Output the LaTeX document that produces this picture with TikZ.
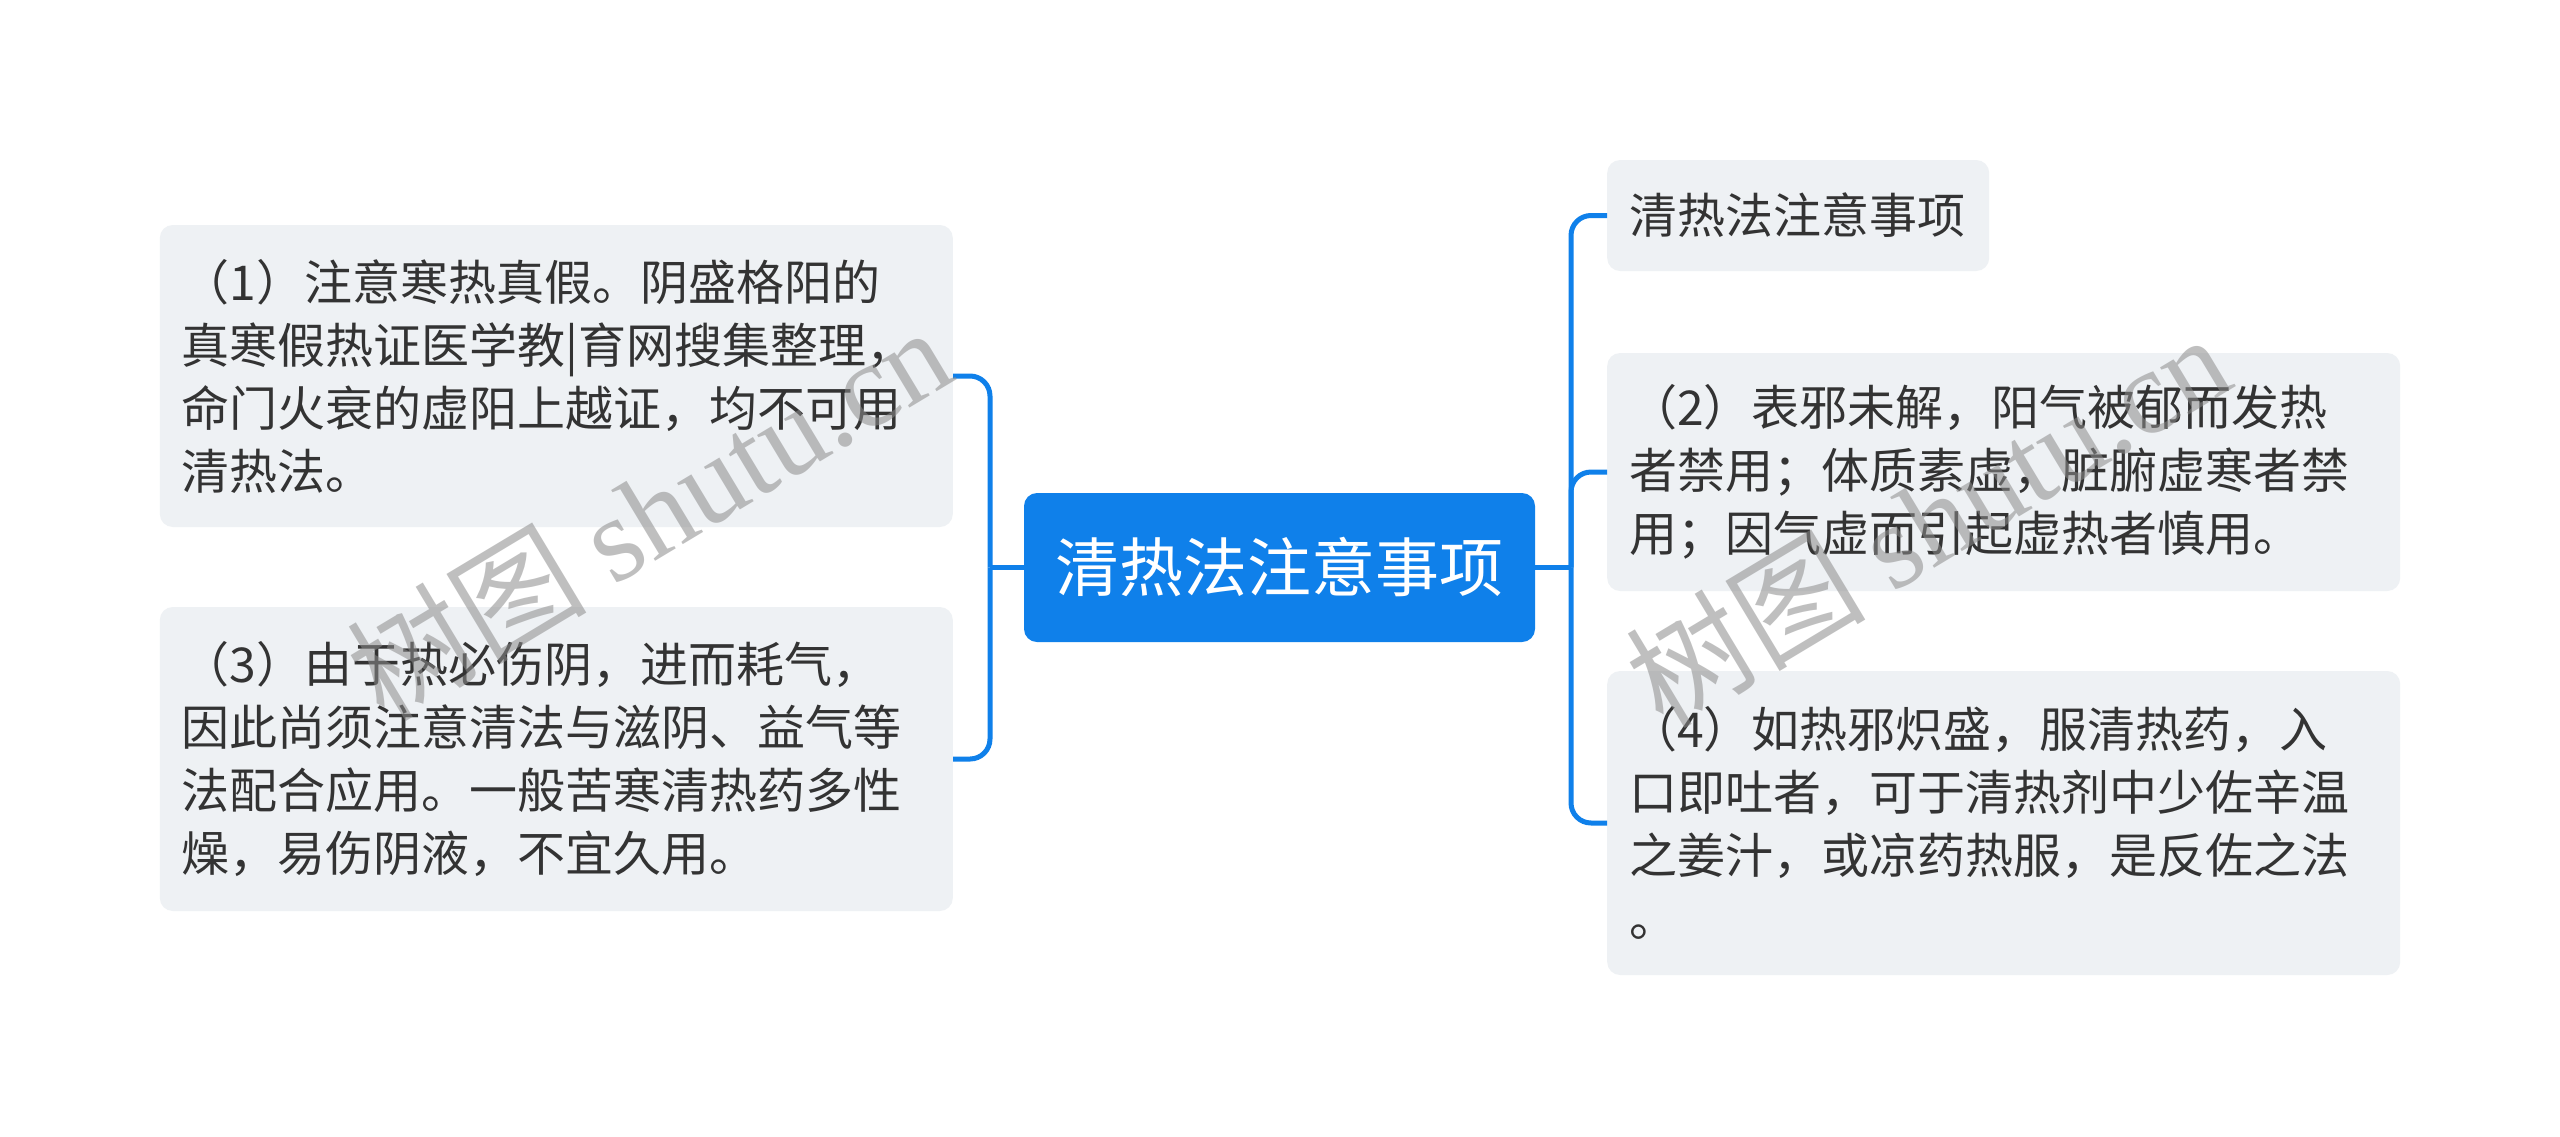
\documentclass[tikz,border=0pt]{standalone}
\usepackage{fontspec}
\setmainfont{Noto Sans CJK SC}
\newfontfamily\wmserif{Liberation Serif}
\definecolor{mainblue}{HTML}{0F80EA}
\definecolor{leafgray}{HTML}{EEF1F4}
\definecolor{txt}{HTML}{333333}
\tikzset{
  leaf/.style={fill=leafgray, rounded corners=13pt, text=txt, align=left,
    inner xsep=22pt, inner ysep=0pt,
    font={\fontsize{48}{63}\selectfont}},
  rootbox/.style={fill=mainblue, rounded corners=13pt, text=white,
    minimum width=511pt, minimum height=149pt, inner sep=0pt,
    font={\fontsize{64}{76}\selectfont}},
  link/.style={draw=mainblue, line width=5pt, rounded corners=20pt},
  wm/.style={text=black!45, opacity=0.55, inner sep=0pt,
    font={\fontsize{120}{130}\selectfont}}
}
\begin{document}
\begin{tikzpicture}[x=1pt,y=-1pt]
\useasboundingbox[fill=white] (0,0) rectangle (2560,1136);

\node[rootbox] (root) at (1279.5,567.5) {清热法注意事项};

\node[leaf, anchor=east, minimum width=793pt, minimum height=302pt, text width=749pt] (l1) at (953,376)
{（1）注意寒热真假。阴盛格阳的\\真寒假热证医学教|育网搜集整理，\\命门火衰的虚阳上越证，均不可用\\清热法。};

\node[leaf, anchor=east, minimum width=793pt, minimum height=304pt, text width=749pt] (l3) at (953,759)
{（3）由于热必伤阴，进而耗气，\\因此尚须注意清法与滋阴、益气等\\法配合应用。一般苦寒清热药多性\\燥，易伤阴液，不宜久用。};

\node[leaf, anchor=west, minimum width=382pt, minimum height=111pt, text width=338pt] (r0) at (1607,215.5)
{清热法注意事项};

\node[leaf, anchor=west, minimum width=793pt, minimum height=238pt, text width=749pt] (r2) at (1607,472)
{（2）表邪未解，阳气被郁而发热\\者禁用；体质素虚，脏腑虚寒者禁\\用；因气虚而引起虚热者慎用。};

\node[leaf, anchor=west, minimum width=793pt, minimum height=304pt, text width=749pt] (r4) at (1607,823)
{（4）如热邪炽盛，服清热药，入\\口即吐者，可于清热剂中少佐辛温\\之姜汁，或凉药热服，是反佐之法\\。};

\coordinate (lj) at (990,567.5);
\coordinate (rj) at (1571,567.5);

\draw[link] (root.west) -- (lj);
\draw[link] (lj) |- (l1.east);
\draw[link] (lj) |- (l3.east);
\draw[link] (root.east) -- (rj);
\draw[link] (rj) |- (r0.west);
\draw[link] (rj) |- (r2.west);
\draw[link] (rj) |- (r4.west);

\node[wm, rotate=31] (wm1) at (648,512) {树图 {\wmserif shutu.cn}};
\node[wm, rotate=31] (wm2) at (1927,519) {树图 {\wmserif shutu.cn}};
\end{tikzpicture}
\end{document}
